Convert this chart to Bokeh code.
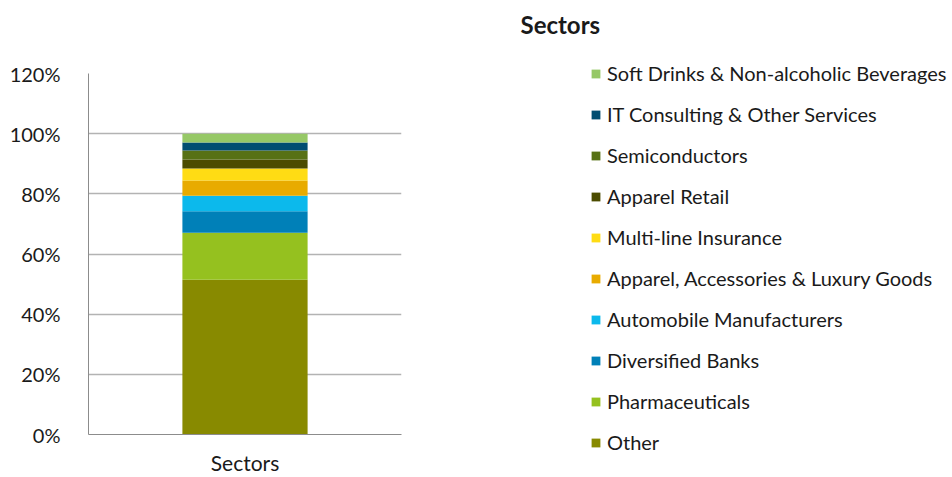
from bokeh.plotting import figure
from bokeh.models import (ColumnDataSource, FixedTicker, NumeralTickFormatter,
                          Legend, LegendItem, Title)
from bokeh.embed import file_html
from bokeh.resources import INLINE

categories = ["Sectors"]
sectors = ["Other", "Pharmaceuticals", "Diversified Banks", "Automobile Manufacturers",
           "Apparel, Accessories & Luxury Goods", "Multi-line Insurance", "Apparel Retail",
           "Semiconductors", "IT Consulting & Other Services",
           "Soft Drinks & Non-alcoholic Beverages"]
shares = [0.514, 0.157, 0.071, 0.052, 0.050, 0.040, 0.030, 0.030, 0.027, 0.029]
colors = ["#888a00", "#95c11f", "#0080b8", "#0cb9ec", "#e8ab00", "#ffdc14",
          "#4c4c00", "#577115", "#004d71", "#96c866"]
y_ticks = [0, 0.2, 0.4, 0.6, 0.8, 1.0, 1.2]

FONT = "Lato"
TXT = "#1a1a1a"

data = {"cat": categories}
keys = []
for i, s in enumerate(shares):
    k = f"s{i}"
    keys.append(k)
    data[k] = [s]
source = ColumnDataSource(data)

p = figure(x_range=categories, y_range=(0, 1.2), frame_width=313, frame_height=361,
           output_backend="svg", toolbar_location=None, title_location=None,
           min_border_left=88, min_border_right=0, min_border_top=73,
           min_border_bottom=43)
p.outline_line_color = None
p.background_fill_color = "white"
p.border_fill_color = "white"

renderers = p.vbar_stack(keys, x="cat", width=0.4, color=colors, source=source,
                         line_color=None)

items = [LegendItem(label=sectors[i], renderers=[renderers[i]])
         for i in reversed(range(len(sectors)))]
legend = Legend(items=items, location=(189, -20), orientation="vertical",
                glyph_width=11, glyph_height=11, label_height=20, spacing=17,
                label_standoff=6, padding=0, margin=0,
                border_line_color=None, background_fill_alpha=0,
                label_text_font=FONT, label_text_font_size="20px",
                label_text_color=TXT)
p.add_layout(legend, "right")

spacer = Title(text=" ", text_font_size="15px", text_font=FONT)
p.add_layout(spacer, "above")
p.add_layout(Title(text="Sectors", align="left", offset=432,
                   text_font=FONT, text_font_size="24px", text_font_style="bold",
                   text_color=TXT), "above")

p.yaxis.ticker = FixedTicker(ticks=y_ticks)
p.yaxis.formatter = NumeralTickFormatter(format="0%")
p.yaxis.major_tick_line_color = None
p.yaxis.minor_tick_line_color = None
p.yaxis.axis_line_color = "#8c8c8c"
p.yaxis.major_label_text_font = FONT
p.yaxis.major_label_text_font_size = "20px"
p.yaxis.major_label_text_color = TXT
p.yaxis.major_label_standoff = 22

p.xaxis.major_tick_line_color = None
p.xaxis.minor_tick_line_color = None
p.xaxis.axis_line_color = "#8c8c8c"
p.xaxis.major_label_text_font = FONT
p.xaxis.major_label_text_font_size = "21px"
p.xaxis.major_label_text_color = TXT
p.xaxis.major_label_standoff = 9

p.xgrid.grid_line_color = None
p.ygrid.grid_line_color = "#b3b3b3"
p.ygrid.grid_line_width = 1.5
p.ygrid.ticker = FixedTicker(ticks=y_ticks)

open("out.html", "w").write(file_html(p, INLINE))
